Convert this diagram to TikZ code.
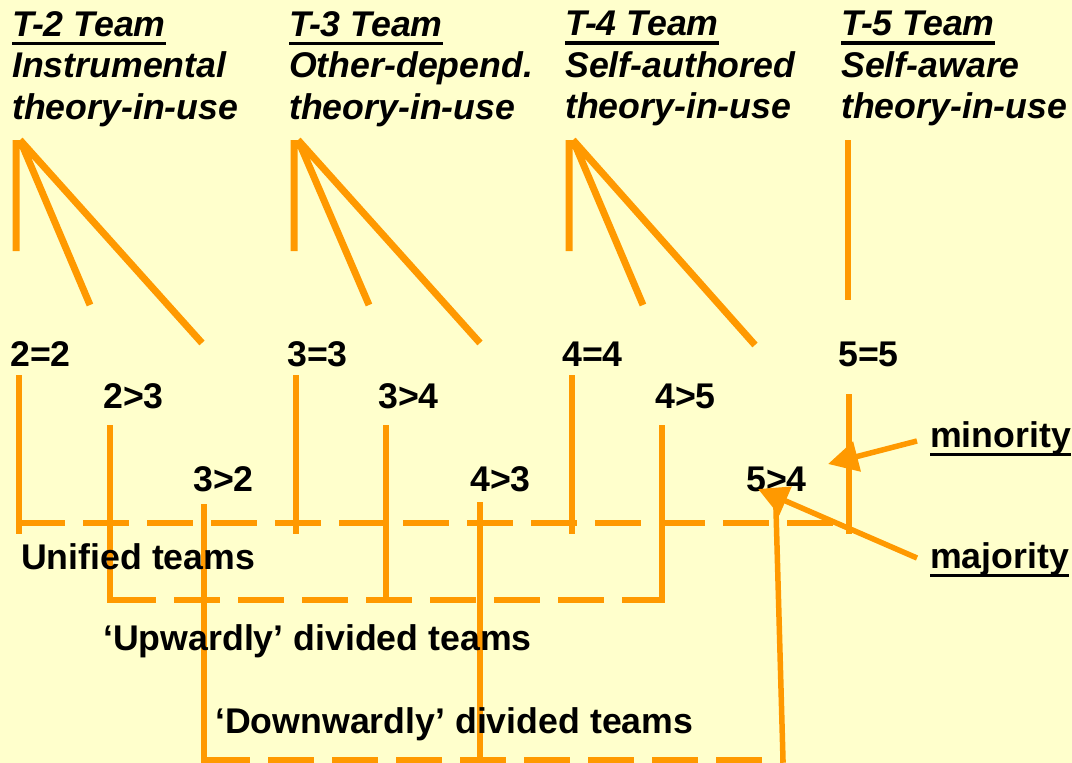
\documentclass[tikz,border=0pt]{standalone}
\usepackage{fontspec}
\setmainfont{Liberation Sans}
\usetikzlibrary{arrows.meta}
\definecolor{paper}{HTML}{FFFFCC}
\definecolor{amber}{HTML}{FF9900}
\newcommand*{\ulbar}[1]{\setbox0\hbox{#1}\rlap{\rule[-9bp]{\wd0}{3.5bp}}\box0}

\begin{document}
\begin{tikzpicture}[x=1bp, y=-1bp,
 lvl/.style={inner sep=0pt, anchor=base west, font=\fontsize{35.7bp}{41bp}\selectfont\bfseries},
 teamhead/.style={inner sep=0pt, anchor=north west, align=left, font=\fontsize{35.7bp}{41.5bp}\selectfont\bfseries\itshape},
 wire/.style={amber, line width=5.5bp},
 fan/.style={wire, line width=7bp},
 drop/.style={wire, line cap=rect},
 teamdash/.style={wire, dash pattern=on 46bp off 18bp},
 pointer/.style={wire, -{Triangle[length=30bp, width=30bp]}}]
 \fill[paper] (0,0) rectangle (1072,763);
 \useasboundingbox (0,0) rectangle (1072,763);

 \node[teamhead] (T2) at (12,11) {\ulbar{T-2 Team}\\Instrumental\\theory-in-use};
 \node[teamhead] (T3) at (289,11) {\ulbar{T-3 Team}\\Other-depend.\\theory-in-use};
 \node[teamhead] (T4) at (565,11) {\ulbar{T-4 Team}\\Self-authored\\theory-in-use};
 \node[teamhead] (T5) at (841,11) {\ulbar{T-5 Team}\\Self-aware\\theory-in-use};

 \draw[fan] (20,140) coordinate (f2) ++(-4,0) -- ++(0,111) (f2) -- ++(70,165) (f2) -- ++(182,203);
 \draw[fan] (298,140) coordinate (f3) ++(-4,0) -- ++(0,111) (f3) -- ++(71,165) (f3) -- ++(182,203);
 \draw[fan] (573,140) coordinate (f4) ++(-4,0) -- ++(0,111) (f4) -- ++(70,165) (f4) -- ++(182,205);
 \draw[wire] (848,140) coordinate (f5) -- ++(0,160);

 \node[lvl] (n22) at (10,366) {2=2};
 \node[lvl] (n33) at (287,366) {3=3};
 \node[lvl] (n44) at (562,366) {4=4};
 \node[lvl] (n55) at (838,366) {5=5};
 \node[lvl] (n23) at (103,408) {2>3};
 \node[lvl] (n34) at (378,408) {3>4};
 \node[lvl] (n45) at (655,408) {4>5};
 \node[lvl] (n32) at (193,491) {3>2};
 \node[lvl] (n43) at (470,491) {4>3};
 \node[lvl] (n54) at (746,491) {5>4};

 \draw[teamdash] (19,523) coordinate (uL) -- (849,523) coordinate (uR);
 \draw[drop] (uL) ++(0,-145) -- ++(0,153);
 \draw[drop] (296,523) ++(0,-145) -- ++(0,153);
 \draw[drop] (572,523) ++(0,-145) -- ++(0,153);
 \draw[drop] (uR) ++(0,-126) -- ++(0,134);

 \draw[teamdash] (110,600) coordinate (wL) -- (662,600) coordinate (wR);
 \draw[drop] (wL) -- ++(0,-172);
 \draw[drop] (386,600) -- ++(0,-172);
 \draw[drop] (wR) -- ++(0,-172);

 \draw[teamdash] (204,760) coordinate (dL) -- (783,760) coordinate (dR);
 \draw[drop] (dL) -- ++(0,-253);
 \draw[drop] (480,760) -- ++(0,-255);
 \draw[drop] (dR) -- (776,510);

 \node[lvl] (uni) at (21,569) {Unified teams};
 \node[lvl] (upw) at (103,650) {‘Upwardly’ divided teams};
 \node[lvl] (dnw) at (215,733) {‘Downwardly’ divided teams};

 \node[lvl] (mino) at (930,447) {\ulbar{minority}};
 \node[lvl] (majo) at (930,568) {\ulbar{majority}};
 \draw[pointer] (917,441) -- (828,464);
 \draw[pointer] (917,558) -- (758,489);
\end{tikzpicture}
\end{document}
